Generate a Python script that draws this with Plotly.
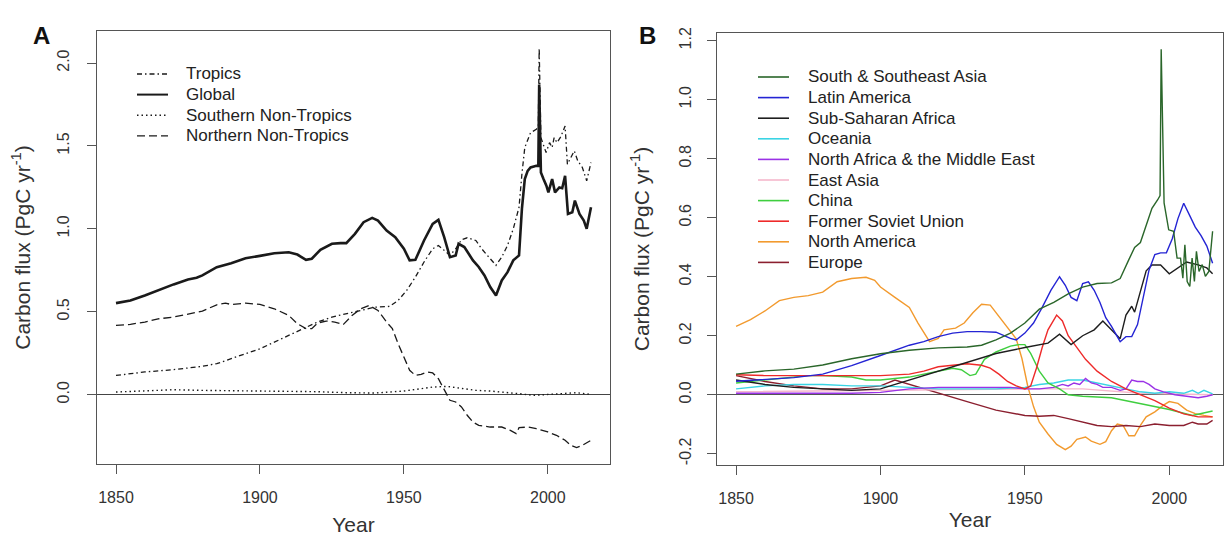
import plotly.graph_objects as go

# ---------------- Panel A data ----------------
glob_years = [1850,1855,1860,1865,1870,1875,1878,1880,1885,1890,1895,1900,1905,1910,1913,1916,1918,1921,1925,1928,
              1930,1933,1936,1939,1941,1944,1947,1950,1952,1954,1957,1960,1962,1964,1966,1968,1969,1971,1974,1976,
              1978,1980,1982,1984,1986,1988,1990,1991,1992,1993,1994,1996,1996.7,1997,1997.6,1998.5,1999.5,2000.2,2001.5,2002.5,
              2004,2005,2006,2007,2008.5,2009.4,2011,2012.5,2013.5,2015]
glob_vals = [0.552,0.568,0.598,0.633,0.665,0.695,0.705,0.719,0.769,0.793,0.823,0.837,0.853,0.859,0.845,0.813,0.82,0.873,0.91,0.914,
             0.914,0.97,1.04,1.066,1.05,0.99,0.95,0.88,0.81,0.813,0.93,1.03,1.054,0.95,0.829,0.84,0.91,0.89,0.81,0.77,
             0.719,0.649,0.598,0.689,0.739,0.81,0.84,1.12,1.30,1.35,1.37,1.38,1.38,1.87,1.34,1.30,1.26,1.22,1.30,1.22,
             1.25,1.245,1.32,1.09,1.10,1.17,1.09,1.05,1.0,1.13]

trop_years = [1850,1860,1870,1880,1885,1890,1895,1900,1905,1910,1915,1920,1925,1930,1935,1940,1945,1948,1951,1954,
              1957,1960,1962,1964,1966,1968,1970,1972,1975,1977,1980,1982,1984,1986,1988,1990,1991,1992,1994,1996,
              1996.7,1997,1997.6,1999.4,2000.6,2001.5,2002.2,2003.2,2004.5,2006,2006.8,2008,2009.2,2010.4,2012,2013.5,2015]
trop_vals = [0.116,0.137,0.151,0.171,0.187,0.217,0.243,0.277,0.317,0.357,0.398,0.438,0.468,0.488,0.512,0.528,0.532,0.568,0.629,0.709,
             0.80,0.88,0.90,0.87,0.84,0.88,0.934,0.946,0.93,0.88,0.82,0.78,0.83,0.90,1.0,1.13,1.33,1.49,1.58,1.60,
             1.62,2.09,1.55,1.46,1.52,1.49,1.55,1.52,1.555,1.62,1.39,1.43,1.47,1.41,1.37,1.29,1.40]

snt_years = [1850,1860,1870,1880,1890,1900,1910,1920,1930,1940,1950,1955,1960,1965,1970,1975,1980,1985,1990,1995,2000,2005,2010,2015]
snt_vals = [0.016,0.022,0.03,0.026,0.024,0.024,0.022,0.018,0.012,0.01,0.022,0.036,0.046,0.05,0.036,0.026,0.022,0.016,0.006,-0.004,0.002,0.01,0.012,0.002]

nnt_years = [1850,1855,1860,1865,1870,1875,1880,1885,1888,1890,1895,1900,1905,1910,1913,1916,1918,1920,1923,1926,
             1929,1932,1935,1938,1941,1944,1946,1948,1950,1952,1954,1956,1958,1960,1962,1964,1966,1968,1970,1972,
             1974,1976,1980,1984,1987,1989,1990,1993,1996,2000,2003,2006,2008,2010,2012,2015]
nnt_vals = [0.418,0.424,0.438,0.458,0.468,0.484,0.504,0.542,0.552,0.544,0.552,0.544,0.518,0.478,0.428,0.398,0.398,0.432,0.444,0.438,
            0.424,0.478,0.518,0.538,0.508,0.438,0.398,0.307,0.227,0.147,0.116,0.122,0.137,0.131,0.096,0.026,-0.034,-0.044,-0.074,-0.124,
            -0.165,-0.185,-0.195,-0.195,-0.215,-0.235,-0.199,-0.195,-0.205,-0.225,-0.245,-0.275,-0.305,-0.319,-0.305,-0.275]

# ---------------- Panel B data ----------------
ssea_years = [1850,1860,1870,1880,1890,1900,1910,1920,1930,1935,1940,1945,1950,1955,1960,1965,1970,1975,1980,1983,
              1986,1988,1990,1992,1994,1996,1996.8,1997.2,1998.2,1999.8,2001.5,2002.7,2003.9,2004.7,2005.4,2006.2,2007.1,2007.9,2008.7,2009.4,
              2010.3,2011.4,2012.5,2013.7,2015]
ssea_vals = [0.07,0.081,0.087,0.101,0.122,0.139,0.151,0.159,0.162,0.168,0.186,0.209,0.243,0.29,0.313,0.342,0.365,0.377,0.379,0.394,
             0.458,0.499,0.516,0.574,0.632,0.661,0.675,1.171,0.65,0.559,0.554,0.463,0.463,0.395,0.508,0.384,0.367,0.463,0.384,0.486,
             0.418,0.441,0.401,0.418,0.554]

lat_years = [1850,1860,1870,1880,1890,1900,1905,1910,1915,1920,1925,1930,1935,1940,1945,1947,1950,1953,1956,1959,
             1962,1964,1966,1968,1970,1972,1974,1976,1978,1980,1982,1983,1985,1987,1989,1991,1993,1995,1997,1999,
             2001,2003,2005,2007,2009,2011,2013,2015]
lat_vals = [0.046,0.052,0.058,0.07,0.099,0.133,0.151,0.168,0.18,0.197,0.209,0.214,0.214,0.212,0.191,0.186,0.209,0.243,0.296,0.354,
            0.40,0.371,0.33,0.319,0.377,0.383,0.354,0.313,0.261,0.232,0.197,0.18,0.197,0.197,0.238,0.33,0.423,0.475,0.481,0.481,
            0.528,0.597,0.649,0.609,0.568,0.539,0.504,0.446]

ssa_years = [1850,1860,1870,1880,1890,1900,1905,1910,1920,1930,1940,1950,1958,1962,1966,1970,1974,1977,1980,1983,
             1985,1987,1988,1990,1992,1994,1997,2000,2003,2006,2010,2013,2015]
ssa_vals = [0.05,0.035,0.025,0.02,0.015,0.02,0.035,0.05,0.08,0.11,0.14,0.16,0.175,0.205,0.17,0.20,0.22,0.25,0.22,0.19,
            0.27,0.30,0.28,0.35,0.42,0.44,0.44,0.41,0.43,0.45,0.44,0.43,0.41]

oce_years = [1850,1860,1870,1880,1890,1900,1910,1920,1930,1940,1950,1955,1960,1965,1970,1975,1980,1985,1990,1995,2000,2005,2008,2010,2012,2015]
oce_vals = [0.02,0.03,0.035,0.035,0.03,0.03,0.025,0.02,0.02,0.02,0.025,0.035,0.04,0.05,0.05,0.04,0.03,0.02,0.01,0.005,0.01,0.005,0.015,0.005,0.015,0.003]

name_years = [1850,1870,1890,1900,1905,1910,1920,1930,1940,1945,1950,1955,1960,1963,1965,1967,1969,1971,1973,1975,
              1977,1980,1983,1985,1987,1989,1991,1993,1995,1998,2002,2006,2010,2013,2015]
name_vals = [0.005,0.005,0.005,0.008,0.015,0.02,0.025,0.025,0.025,0.025,0.02,0.02,0.025,0.035,0.03,0.04,0.035,0.055,0.04,0.035,
             0.025,0.025,0.015,0.02,0.05,0.045,0.045,0.035,0.02,0.01,0.0,-0.005,-0.01,-0.005,0.0]

ea_years = [1850,1900,1930,1950,1970,1990,2015]
ea_vals = [0.01,0.015,0.02,0.02,0.02,0.005,0.0]

chn_years = [1850,1860,1870,1875,1880,1890,1895,1900,1910,1920,1925,1928,1931,1933,1936,1940,1945,1948,1950,1952,
             1955,1958,1962,1965,1970,1980,1990,2000,2008,2012,2015]
chn_vals = [0.04,0.05,0.06,0.065,0.065,0.06,0.05,0.05,0.06,0.08,0.09,0.085,0.065,0.07,0.12,0.145,0.165,0.17,0.17,0.14,
            0.08,0.04,0.02,0.0,-0.005,-0.01,-0.03,-0.05,-0.07,-0.06,-0.055]

fsu_years = [1850,1860,1870,1880,1890,1900,1910,1915,1920,1925,1930,1935,1938,1941,1944,1947,1950,1952,1954,1956,
             1958,1961,1963,1965,1968,1971,1975,1980,1985,1990,1995,2000,2005,2010,2015]
fsu_vals = [0.068,0.065,0.065,0.065,0.063,0.065,0.07,0.08,0.095,0.1,0.105,0.1,0.09,0.07,0.045,0.03,0.02,0.03,0.09,0.16,
            0.22,0.27,0.25,0.2,0.16,0.12,0.08,0.045,0.02,0.0,-0.02,-0.045,-0.065,-0.075,-0.075]

nam_years = [1850,1855,1860,1865,1870,1875,1880,1885,1890,1895,1898,1900,1905,1910,1913,1917,1920,1922,1926,1929,
             1932,1935,1938,1941,1944,1947,1949,1951,1953,1955,1958,1961,1964,1966,1968,1971,1973,1976,1978,1980,
             1982,1984,1986,1988,1990,1992,1995,1998,2000,2003,2006,2009,2012,2015]
nam_vals = [0.232,0.255,0.284,0.319,0.33,0.336,0.348,0.383,0.394,0.398,0.388,0.365,0.33,0.296,0.243,0.18,0.191,0.22,0.226,0.243,
            0.278,0.307,0.304,0.267,0.226,0.19,0.122,0.029,-0.04,-0.093,-0.133,-0.168,-0.186,-0.174,-0.151,-0.143,-0.157,-0.168,-0.159,-0.122,
            -0.099,-0.104,-0.139,-0.139,-0.104,-0.075,-0.058,-0.035,-0.023,-0.029,-0.052,-0.064,-0.07,-0.075]

eur_years = [1850,1860,1870,1880,1890,1900,1905,1910,1920,1930,1940,1950,1955,1960,1965,1970,1975,1980,1985,1990,
             1995,2000,2005,2008,2010,2013,2015]
eur_vals = [0.065,0.045,0.03,0.02,0.02,0.03,0.05,0.035,0.006,-0.023,-0.052,-0.07,-0.073,-0.07,-0.081,-0.093,-0.104,-0.108,-0.104,-0.108,
            -0.099,-0.104,-0.104,-0.093,-0.099,-0.099,-0.087]

a_ticks = [0.0, 0.5, 1.0, 1.5, 2.0]
a_ticktext = ["0.0", "0.5", "1.0", "1.5", "2.0"]
b_ticks = [-0.2, 0.0, 0.2, 0.4, 0.6, 0.8, 1.0, 1.2]
b_ticktext = ["-0.2", "0.0", "0.2", "0.4", "0.6", "0.8", "1.0", "1.2"]
x_ticks = [1850, 1900, 1950, 2000]

FONT = "Liberation Sans, Arial, Helvetica, sans-serif"
W, H = 1225, 539
def px(x): return x / W
def py(y): return 1 - y / H

fig = go.Figure()

# Panel A series: (name, years, values, width, dash)
a_series = [
    ("Tropics", trop_years, trop_vals, 1.3, "5px,3px,1.5px,3px"),
    ("Global", glob_years, glob_vals, 2.6, "solid"),
    ("Southern Non-Tropics", snt_years, snt_vals, 1.4, "1.5px,3px"),
    ("Northern Non-Tropics", nnt_years, nnt_vals, 1.3, "8px,4px"),
]
for name, xs, ys, w, dash in a_series:
    fig.add_trace(go.Scatter(x=xs, y=ys, mode="lines", name=name, showlegend=False,
                             line=dict(color="#1a1a1a", width=w, dash=dash), xaxis="x", yaxis="y"))

# Panel B series in legend order: (name, years, values, colour)
b_series = [
    ("South & Southeast Asia", ssea_years, ssea_vals, "#2a662a"),
    ("Latin America", lat_years, lat_vals, "#2424d4"),
    ("Sub-Saharan Africa", ssa_years, ssa_vals, "#1e1e1e"),
    ("Oceania", oce_years, oce_vals, "#3ad4e4"),
    ("North Africa & the Middle East", name_years, name_vals, "#9a32e6"),
    ("East Asia", ea_years, ea_vals, "#f5b8cc"),
    ("China", chn_years, chn_vals, "#3fce3f"),
    ("Former Soviet Union", fsu_years, fsu_vals, "#ee2a2a"),
    ("North America", nam_years, nam_vals, "#f29a2e"),
    ("Europe", eur_years, eur_vals, "#8b1f2f"),
]
draw_order = [8, 9, 5, 3, 4, 6, 7, 2, 1, 0]
for i in draw_order:
    name, xs, ys, col = b_series[i]
    fig.add_trace(go.Scatter(x=xs, y=ys, mode="lines", name=name, showlegend=False,
                             line=dict(color=col, width=1.4), xaxis="x2", yaxis="y2"))

# Manual legends (keys) drawn in paper space, R-style
annotations = []
shapes = []
LEG_A = dict(x0=137, x1=168, xt=184, y0=74, dy=20.6)
for k, (name, _, _, w, dash) in enumerate(a_series):
    yy = LEG_A["y0"] + k * LEG_A["dy"]
    shapes.append(dict(type="line", xref="paper", yref="paper", x0=px(LEG_A["x0"]), x1=px(LEG_A["x1"]),
                       y0=py(yy), y1=py(yy), line=dict(color="#1a1a1a", width=min(w, 2.0), dash=dash)))
    annotations.append(dict(text=name, x=px(LEG_A["xt"]), y=py(yy), xref="paper", yref="paper",
                            xanchor="left", yanchor="middle", showarrow=False,
                            font=dict(family=FONT, size=17, color="#222")))
LEG_B = dict(x0=758, x1=789, xt=806, y0=77, dy=20.6)
for k, (name, _, _, col) in enumerate(b_series):
    yy = LEG_B["y0"] + k * LEG_B["dy"]
    shapes.append(dict(type="line", xref="paper", yref="paper", x0=px(LEG_B["x0"]), x1=px(LEG_B["x1"]),
                       y0=py(yy), y1=py(yy), line=dict(color=col, width=1.6)))
    annotations.append(dict(text=name, x=px(LEG_B["xt"]), y=py(yy), xref="paper", yref="paper",
                            xanchor="left", yanchor="middle", showarrow=False,
                            font=dict(family=FONT, size=17, color="#222")))

annotations += [
    dict(text="<b>A</b>", x=px(31), y=py(20), xref="paper", yref="paper", showarrow=False,
         font=dict(family=FONT, size=24, color="#111")),
    dict(text="<b>B</b>", x=px(647), y=py(20), xref="paper", yref="paper", showarrow=False,
         font=dict(family=FONT, size=24, color="#111")),
]

axis_common = dict(showline=True, mirror=True, linecolor="#555", linewidth=1, showgrid=False,
                   ticks="outside", ticklen=9, tickcolor="#555", tickwidth=1, automargin=False,
                   tickfont=dict(family=FONT, size=16, color="#333"))
title_font = dict(size=21, family=FONT, color="#333")

fig.update_layout(
    template="none",
    width=W, height=H, margin=dict(l=0, r=0, t=0, b=0, autoexpand=False),
    paper_bgcolor="white", plot_bgcolor="white", showlegend=False,
    font=dict(family=FONT, color="#222"),
    xaxis=dict(domain=[px(97), px(610)], range=[1843.4, 2021.6], tickvals=x_ticks, anchor="y",
               title=dict(text="Year", font=title_font, standoff=12),
               ticklabelstandoff=10, zeroline=False, **axis_common),
    yaxis=dict(domain=[py(464), py(31)], range=[-0.418, 2.193], tickvals=a_ticks, ticktext=a_ticktext,
               tickangle=-90, anchor="x",
               title=dict(text="Carbon flux (PgC yr<sup>-1</sup>)", font=title_font, standoff=18),
               ticklabelstandoff=12, zeroline=True, zerolinecolor="#444", zerolinewidth=1.3, **axis_common),
    xaxis2=dict(domain=[px(717), px(1223)], range=[1843.4, 2018.6], tickvals=x_ticks, anchor="y2",
                title=dict(text="Year", font=title_font, standoff=6),
                ticklabelstandoff=10, zeroline=False, **axis_common),
    yaxis2=dict(domain=[py(465), py(33)], range=[-0.238, 1.226], tickvals=b_ticks, ticktext=b_ticktext,
                tickangle=-90, anchor="x2",
                title=dict(text="Carbon flux (PgC yr<sup>-1</sup>)", font=title_font, standoff=21),
                ticklabelstandoff=10, zeroline=True, zerolinecolor="#555", zerolinewidth=1.3, **axis_common),
    shapes=shapes,
    annotations=annotations,
)

fig.write_html("out.html", config={"displayModeBar": False},
               post_script="document.body.style.margin='0px';document.body.style.overflow='hidden';")
